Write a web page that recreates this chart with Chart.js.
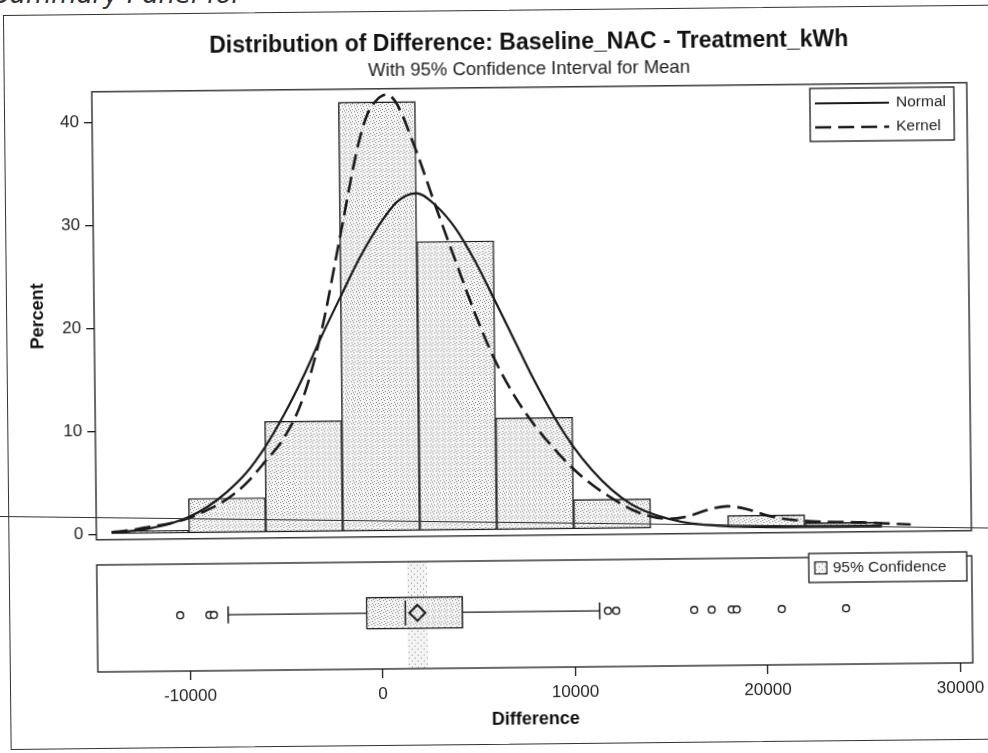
<!DOCTYPE html>
<html lang="en">
<head>
  <meta charset="UTF-8">
  <meta name="viewport" content="width=device-width, initial-scale=1.0">
  <title>Distribution of Difference</title>
  <style>
    html, body { margin: 0; padding: 0; background: #fff; }
    body { width: 988px; height: 753px; position: relative; overflow: hidden; }
    #page-head {
      position: absolute; left: -7px; top: -21px;
      font: italic 300 26px/30px "DejaVu Sans", sans-serif; color: #333; white-space: nowrap;
    }
    #sheet {
      position: absolute; left: 0; top: 0; width: 988px; height: 753px;
      transform-origin: 95px 400px; transform: rotate(-0.6deg);
    }
    #frame {
      position: absolute; left: 7px; top: 14px; width: 1060px; height: 733px;
      border: 1.3px solid #333;
    }
    #hist { position: absolute; left: 0; top: 0; }
    #box { position: absolute; left: 0; top: 555px; }
    #rule {
      position: absolute; left: 0; top: 516px; width: 995px; height: 0;
      border-top: 1.3px solid #333; transform-origin: 0 0; transform: rotate(0.67deg);
    }
  </style>
</head>
<body>
  <div id="page-head">Summary Panel for</div>
  <div id="sheet">
    <div id="frame"></div>
    <canvas id="hist" width="988" height="555"></canvas>
    <canvas id="box" width="988" height="198"></canvas>
  </div>
  <div id="rule"></div>

  <script src="https://cdn.jsdelivr.net/npm/chart.js@4.4.1/dist/chart.umd.min.js"></script>
  <script>
    // axis ranges and ticks
    const xMin = -14800;
    const xMax = 30650;
    const xTicks = [-10000, 0, 10000, 20000, 30000];
    const yTicks = [0, 10, 20, 30, 40];

    // histogram bins (midpoints, width 4000) and percent of observations
    const binMids = [-12000, -8000, -4000, 0, 4000, 8000, 12000, 16000, 20000, 24000];
    const binPercent = [0.3, 3.4, 10.8, 41.7, 28.1, 10.9, 2.9, null, 1.2, 0.4];

    // fitted normal density, in percent per bin
    const normalX = [-14000, -13000, -12000, -11000, -10000, -9000, -8000, -7000, -6000, -5000,
      -4000, -3000, -2000, -1000, 0, 1000, 2000, 3000, 4000, 5000,
      6000, 7000, 8000, 9000, 10000, 11000, 12000, 13000, 14000, 15000,
      16000, 17000, 18000, 19000, 20000, 21000, 22000, 24000, 26000];
    const normalPct = [0.15, 0.3, 0.55, 0.95, 1.6, 2.6, 4.0, 5.8, 8.3, 11.4,
      15.0, 19.0, 22.8, 26.5, 29.6, 32.0, 32.8, 31.6, 29.4, 26.2,
      22.4, 18.5, 14.6, 11.1, 8.1, 5.7, 3.8, 2.4, 1.5, 0.9,
      0.5, 0.3, 0.15, 0.08, 0.04, 0.02, 0.01, 0, 0];

    // kernel density estimate
    const kernelX = [-14000, -13000, -12000, -11000, -10000, -9000, -8000, -7000, -6000, -5000,
      -4000, -3000, -2000, -1000, -500, 0, 500, 1000, 2000, 3000,
      4000, 5000, 6000, 7000, 8000, 9000, 10000, 11000, 12000, 13000,
      14000, 15000, 16000, 17000, 18000, 19000, 20000, 21000, 22000, 23000,
      24000, 25000, 26000, 27000, 27500];
    const kernelPct = [0.2, 0.4, 0.7, 1.0, 1.5, 2.3, 3.3, 4.8, 6.9, 9.2,
      13.0, 19.5, 28.5, 37.5, 40.5, 41.9, 42.4, 41.6, 37.0, 31.5,
      26.2, 21.0, 16.5, 13.0, 10.2, 7.9, 5.9, 4.3, 3.0, 1.9,
      1.2, 0.95, 1.2, 1.8, 2.1, 1.8, 1.2, 0.8, 0.6, 0.5,
      0.45, 0.4, 0.3, 0.2, 0.15];

    // box plot: lower whisker, Q1, median, Q3, upper whisker
    const boxStats = [-8000, -830, 1210, 4190, 11300];
    const meanDiff = 1830;
    const meanCI = [1330, 2330];
    const outliers = [-10490, -8970, -8740, 11730, 12160, 16210, 17120, 18160, 18420, 20760, 24100];

    const ink = '#1a1a1a';
    Chart.defaults.font.family = '"Liberation Sans", Arial, sans-serif';
    Chart.defaults.color = '#222';

    // light dotted fill, dots = which pixels of a 6x6 tile are dark
    function stipple(ctx, dots) {
      const c = document.createElement('canvas');
      c.width = 6; c.height = 6;
      const g = c.getContext('2d');
      g.fillStyle = '#f4f4f4';
      g.fillRect(0, 0, 6, 6);
      g.fillStyle = '#8c8c8c';
      dots.forEach(([px, py]) => g.fillRect(px, py, 1, 1));
      return ctx.createPattern(c, 'repeat');
    }
    const denseDots = [[0, 1], [3, 0], [4, 3], [1, 4], [5, 5]];
    const sparseDots = [[1, 1], [4, 4]];

    const toPoints = (xs, ys) => xs.map((x, i) => ({ x: x, y: ys[i] }));

    // black rectangle round each plot panel
    const panelFrame = {
      id: 'panelFrame',
      afterDatasetsDraw(chart) {
        const { ctx, chartArea: a } = chart;
        ctx.save();
        ctx.strokeStyle = ink;
        ctx.lineWidth = 1.3;
        ctx.strokeRect(a.left, a.top, a.right - a.left, a.bottom - a.top);
        ctx.restore();
      }
    };

    // boxed legend drawn inside the panel
    const insetLegend = {
      id: 'insetLegend',
      afterDraw(chart, args, opts) {
        const { ctx } = chart;
        const [x0, y0, x1, y1] = opts.box;
        ctx.save();
        ctx.fillStyle = '#fff';
        ctx.fillRect(x0, y0, x1 - x0, y1 - y0);
        ctx.strokeStyle = ink;
        ctx.lineWidth = 1.3;
        ctx.strokeRect(x0, y0, x1 - x0, y1 - y0);
        ctx.font = '15.5px "Liberation Sans", Arial, sans-serif';
        ctx.textBaseline = 'middle';
        opts.items.forEach((idx, i) => {
          const ds = chart.data.datasets[idx];
          const y = opts.rowY[i];
          if (opts.kind === 'line') {
            ctx.strokeStyle = ds.borderColor;
            ctx.lineWidth = ds.borderWidth;
            ctx.setLineDash(ds.borderDash || []);
            ctx.beginPath();
            ctx.moveTo(opts.sampleX[0], y);
            ctx.lineTo(opts.sampleX[1], y);
            ctx.stroke();
            ctx.setLineDash([]);
          } else {
            ctx.fillStyle = ds.backgroundColor;
            ctx.fillRect(opts.sampleX[0], y - 6, 12, 12);
            ctx.strokeStyle = ink;
            ctx.lineWidth = 1.2;
            ctx.strokeRect(opts.sampleX[0], y - 6, 12, 12);
          }
          ctx.fillStyle = '#222';
          ctx.fillText(ds.label, opts.textX, y);
        });
        ctx.restore();
      }
    };

    const histCtx = document.getElementById('hist').getContext('2d');
    const boxCtx = document.getElementById('box').getContext('2d');

    new Chart(histCtx, {
      type: 'scatter',
      data: {
        datasets: [
          {
            type: 'bar',
            label: 'Percent',
            data: toPoints(binMids, binPercent),
            backgroundColor: stipple(histCtx, denseDots),
            borderColor: ink,
            borderWidth: 1.4,
            borderSkipped: false,
            barPercentage: 1,
            categoryPercentage: 1,
            order: 3
          },
          {
            type: 'line',
            label: 'Normal',
            data: toPoints(normalX, normalPct),
            borderColor: ink,
            borderWidth: 2.2,
            pointRadius: 0,
            showLine: true,
            fill: false,
            cubicInterpolationMode: 'monotone',
            order: 1
          },
          {
            type: 'line',
            label: 'Kernel',
            data: toPoints(kernelX, kernelPct),
            borderColor: ink,
            borderWidth: 2.6,
            borderDash: [16, 7],
            pointRadius: 0,
            showLine: true,
            fill: false,
            cubicInterpolationMode: 'monotone',
            order: 0
          }
        ]
      },
      options: {
        responsive: false,
        animation: false,
        events: [],
        layout: { padding: { left: 0, right: 18, top: 0, bottom: 5.7 } },
        plugins: {
          legend: { display: false },
          tooltip: { enabled: false },
          title: {
            display: true,
            text: 'Distribution of Difference: Baseline_NAC - Treatment_kWh',
            fullSize: false,
            color: '#111',
            font: { size: 23, weight: 'bold' },
            padding: { top: 34, bottom: 0 }
          },
          subtitle: {
            display: true,
            text: 'With 95% Confidence Interval for Mean',
            fullSize: false,
            color: '#222',
            font: { size: 18.5 },
            padding: { top: 1, bottom: 7 }
          },
          insetLegend: {
            kind: 'line',
            items: [1, 2],
            box: [813, 96, 957, 149],
            rowY: [111, 135],
            sampleX: [818, 892],
            textX: 899
          }
        },
        scales: {
          x: {
            type: 'linear',
            min: xMin,
            max: xMax,
            offset: false,
            display: false,
            afterBuildTicks: s => { s.ticks = xTicks.map(v => ({ value: v })); }
          },
          y: {
            type: 'linear',
            min: -0.51,
            max: 42.97,
            afterBuildTicks: s => { s.ticks = yTicks.map(v => ({ value: v })); },
            afterFit: s => { s.width = 95; },
            border: { display: false },
            grid: { drawOnChartArea: false, drawTicks: true, tickLength: 8, color: ink, lineWidth: 1.3 },
            ticks: { font: { size: 17 }, color: '#222', padding: 5 },
            title: {
              display: true,
              text: 'Percent',
              color: '#111',
              font: { size: 18, weight: 'bold' },
              padding: { top: 28, bottom: 28 }
            }
          }
        }
      },
      plugins: [panelFrame, insetLegend]
    });

    new Chart(boxCtx, {
      type: 'scatter',
      data: {
        datasets: [
          {
            type: 'bar',
            label: '95% Confidence',
            indexAxis: 'y',
            yAxisID: 'yBand',
            data: [{ x: meanCI, y: 0.5 }],
            backgroundColor: stipple(boxCtx, sparseDots),
            borderWidth: 0,
            barThickness: 114,
            order: 5
          },
          {
            type: 'bar',
            label: 'Interquartile range',
            indexAxis: 'y',
            data: [{ x: [boxStats[1], boxStats[3]], y: 0.5 }],
            backgroundColor: stipple(boxCtx, denseDots),
            borderColor: ink,
            borderWidth: 1.5,
            borderSkipped: false,
            barThickness: 32,
            order: 4
          },
          {
            type: 'line',
            label: 'Median',
            data: [{ x: boxStats[2], y: 0.36 }, { x: boxStats[2], y: 0.64 }],
            borderColor: ink,
            borderWidth: 1.5,
            pointRadius: 0
          },
          {
            type: 'line',
            label: 'Lower whisker',
            data: [{ x: boxStats[0], y: 0.5 }, { x: boxStats[1], y: 0.5 }],
            borderColor: ink,
            borderWidth: 1.3,
            pointRadius: 0
          },
          {
            type: 'line',
            label: 'Upper whisker',
            data: [{ x: boxStats[3], y: 0.5 }, { x: boxStats[4], y: 0.5 }],
            borderColor: ink,
            borderWidth: 1.3,
            pointRadius: 0
          },
          {
            label: 'Whisker ends',
            data: [{ x: boxStats[0], y: 0.5 }, { x: boxStats[4], y: 0.5 }],
            pointStyle: 'line',
            rotation: 90,
            pointRadius: 8.5,
            borderColor: ink,
            borderWidth: 1.5
          },
          {
            label: 'Outliers',
            data: outliers.map(v => ({ x: v, y: 0.5 })),
            pointStyle: 'circle',
            pointRadius: 3.4,
            backgroundColor: '#fff',
            borderColor: ink,
            borderWidth: 1.4
          },
          {
            label: 'Mean',
            data: [{ x: meanDiff, y: 0.5 }],
            pointStyle: 'rectRot',
            pointRadius: 8,
            backgroundColor: 'rgba(0,0,0,0)',
            borderColor: ink,
            borderWidth: 2
          }
        ]
      },
      options: {
        responsive: false,
        animation: false,
        events: [],
        layout: { padding: { left: 95, right: 18, top: 3, bottom: 0 } },
        plugins: {
          legend: { display: false },
          tooltip: { enabled: false },
          insetLegend: {
            kind: 'square',
            items: [0],
            box: [807, 6, 965, 35],
            rowY: [20.5],
            sampleX: [813],
            textX: 831
          }
        },
        scales: {
          x: {
            type: 'linear',
            min: xMin,
            max: xMax,
            afterBuildTicks: s => { s.ticks = xTicks.map(v => ({ value: v })); },
            afterFit: s => { s.height = 81; },
            border: { display: false },
            grid: { drawOnChartArea: false, drawTicks: true, tickLength: 9, color: ink, lineWidth: 1.3 },
            ticks: { font: { size: 17 }, color: '#222', padding: 6, maxRotation: 0, autoSkip: false, callback: v => String(v) },
            title: {
              display: true,
              text: 'Difference',
              color: '#111',
              font: { size: 18, weight: 'bold' },
              padding: { top: 4, bottom: 18 }
            }
          },
          y: {
            type: 'linear',
            min: -0.026,
            max: 0.974,
            display: false
          },
          yBand: {
            type: 'linear',
            min: 0,
            max: 1,
            display: false
          }
        }
      },
      plugins: [panelFrame, insetLegend]
    });
  </script>
</body>
</html>
